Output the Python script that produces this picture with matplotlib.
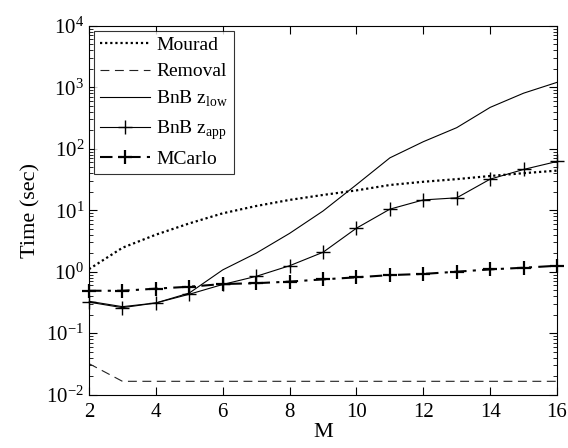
import matplotlib
matplotlib.use("Agg")
import matplotlib.pyplot as plt
from matplotlib.ticker import LogLocator, NullFormatter

M = [2, 3, 4, 5, 6, 7, 8, 9, 10, 11, 12, 13, 14, 15, 16]
mourad = [1.1, 2.45, 4.0, 6.1, 8.9, 11.7, 14.7, 17.7, 21, 25.7, 29, 32, 36, 40, 44]
removal = [0.032, 0.0165, 0.0165, 0.0165, 0.0165, 0.0165, 0.0165, 0.0165,
           0.0165, 0.0165, 0.0165, 0.0165, 0.0165, 0.0165, 0.0165]
bnb_low = [0.33, 0.27, 0.31, 0.45, 1.07, 2.0, 4.2, 9.7, 26, 71, 130, 220, 470, 800, 1200]
bnb_app = [0.32, 0.26, 0.31, 0.43, 0.62, 0.84, 1.25, 2.07, 5.1, 10.4, 14.7, 15.9, 32, 46, 62]
mcarlo = [0.49, 0.49, 0.53, 0.57, 0.63, 0.65, 0.69, 0.75, 0.81, 0.88, 0.92, 1.0, 1.09, 1.16, 1.25]

plt.rcParams['font.family'] = ['Liberation Serif', 'DejaVu Serif']
plt.rcParams['mathtext.fontset'] = 'custom'
plt.rcParams['mathtext.rm'] = 'Liberation Serif'

fig = plt.figure(figsize=(5.68, 4.48), dpi=100)
ax = fig.add_axes([0.1567, 0.119, 0.824, 0.8236])

ax.plot(M, mourad, color='black', linestyle=(0, (1, 1.3)), linewidth=1.6, label='Mourad')
ax.plot(M, removal, color='#222222', linestyle=(0, (8, 5)), linewidth=0.8, label='Removal')
ax.plot(M, bnb_low, color='black', linestyle='-', linewidth=0.8, label=r'BnB z$_{\mathrm{low}}$')
ax.plot(M, bnb_app, color='black', linestyle='-', linewidth=0.8, marker='+',
        markersize=10, markeredgewidth=1.0, label=r'BnB z$_{\mathrm{app}}$', clip_on=False)
ax.plot(M, mcarlo, color='black', linestyle=(0, (6, 3, 1.5, 3)), linewidth=1.5, marker='+',
        markersize=10, markeredgewidth=1.6, label='MCarlo', clip_on=False)

ax.set_yscale('log')
ax.set_xlim(2, 16)
ax.set_ylim(1e-2, 1e4)
ax.set_xticks([2, 4, 6, 8, 10, 12, 14, 16])
ax.yaxis.set_major_locator(LogLocator(base=10, numticks=10))
ax.yaxis.set_minor_locator(LogLocator(base=10, subs=range(2, 10), numticks=20))
ax.yaxis.set_minor_formatter(NullFormatter())
ax.tick_params(axis='both', which='both', direction='in', top=True, right=True, labelsize=15)
ax.tick_params(axis='x', which='major', pad=6)
ax.tick_params(which='major', length=6)
ax.tick_params(which='minor', length=3)
for s in ax.spines.values():
    s.set_linewidth(0.8)

ax.set_xlabel('M', fontsize=16, labelpad=1)
ax.set_ylabel('Time (sec)', fontsize=16, labelpad=4)

leg = ax.legend(loc='upper left', fontsize=14, frameon=True, fancybox=False,
                edgecolor='black', handlelength=2.6, borderaxespad=0.25,
                labelspacing=0.45, handletextpad=0.3, borderpad=0.3)
leg.get_frame().set_linewidth(0.8)

fig.savefig('out.png', dpi=100)
